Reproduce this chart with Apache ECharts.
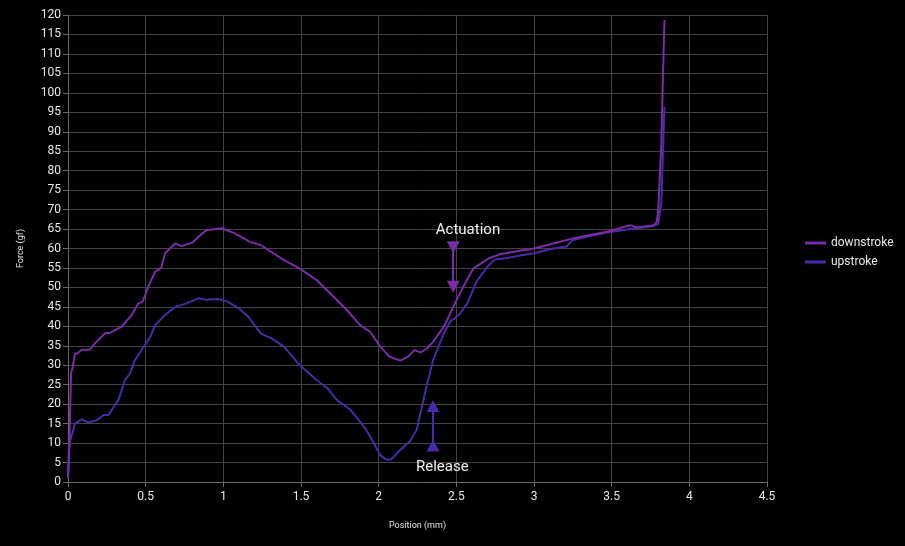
<!DOCTYPE html>
<html>
<head>
<meta charset="utf-8">
<script src="https://cdn.jsdelivr.net/npm/echarts@6/dist/echarts.min.js"></script>
<style>html,body{margin:0;padding:0;background:#000;}#c{width:905px;height:546px;}</style>
</head>
<body>
<div id="c"></div>
<script>
// Downstroke: [position (mm), force (gf)]
var downstroke = [
  [0.00, 1], [0.01, 12], [0.02, 28], [0.03, 29.5], [0.045, 33], [0.06, 33], [0.088, 34],
  [0.14, 34], [0.175, 35.7], [0.24, 38.3], [0.27, 38.3], [0.345, 39.9], [0.41, 42.9],
  [0.453, 45.9], [0.48, 46.3], [0.517, 50.2], [0.56, 54], [0.60, 55], [0.625, 58.8],
  [0.69, 61.3], [0.73, 60.6], [0.80, 61.5], [0.84, 63], [0.89, 64.7], [0.99, 65.2],
  [1.075, 63.9], [1.17, 61.7], [1.24, 60.9], [1.39, 57], [1.49, 54.9], [1.60, 51.9],
  [1.71, 47.6], [1.795, 44.2], [1.88, 40.3], [1.945, 38.6], [2.01, 34.8], [2.07, 32.2],
  [2.14, 31.2], [2.19, 32.2], [2.23, 33.9], [2.27, 33.3], [2.31, 34.3], [2.35, 36],
  [2.42, 39.9], [2.48, 45], [2.545, 50.2], [2.61, 54.9], [2.66, 56.2], [2.71, 57.5],
  [2.78, 58.5], [2.91, 59.4], [3.0, 60], [3.125, 61.3], [3.25, 62.6], [3.36, 63.5],
  [3.47, 64.3], [3.62, 66], [3.66, 65.4], [3.77, 66], [3.79, 66.8], [3.80, 70],
  [3.82, 87], [3.83, 104], [3.84, 118.7]
];
// Upstroke: [position (mm), force (gf)]
var upstroke = [
  [0.00, 1], [0.01, 10], [0.045, 15], [0.088, 16.1], [0.13, 15.3], [0.185, 15.9],
  [0.23, 17.2], [0.26, 17.2], [0.325, 21.1], [0.367, 26.2], [0.40, 27.9], [0.43, 31.3],
  [0.496, 35.2], [0.53, 37.3], [0.56, 40.3], [0.625, 42.9], [0.69, 45], [0.75, 45.7],
  [0.84, 47.2], [0.89, 46.8], [0.97, 47], [1.03, 46.3], [1.10, 44.6], [1.16, 42.5],
  [1.24, 38.2], [1.31, 36.9], [1.39, 34.8], [1.49, 30.1], [1.60, 26.2], [1.67, 24.1],
  [1.73, 21.1], [1.82, 18.5], [1.88, 15.5], [1.92, 13.4], [1.97, 9.9], [2.01, 6.9],
  [2.05, 5.7], [2.08, 5.8], [2.14, 8.3], [2.20, 10.4], [2.245, 13.4], [2.30, 23.2],
  [2.35, 31.3], [2.42, 38.2], [2.46, 41.2], [2.52, 43.1], [2.57, 45.9], [2.63, 51.5],
  [2.70, 55.3], [2.75, 57.2], [2.82, 57.5], [2.91, 58.2], [3.0, 58.8], [3.125, 60],
  [3.21, 60.5], [3.25, 62.2], [3.36, 63.2], [3.47, 64.1], [3.60, 64.9], [3.77, 65.8],
  [3.80, 66.3], [3.82, 72], [3.84, 96.4]
];
var xTicks = [0, 0.5, 1, 1.5, 2, 2.5, 3, 3.5, 4, 4.5];
var yTicks = [0, 5, 10, 15, 20, 25, 30, 35, 40, 45, 50, 55, 60, 65, 70, 75, 80, 85, 90, 95, 100, 105, 110, 115, 120];
// Annotations: arrow from -> to, label position
var actuationArrow = [[2.48, 60.3], [2.48, 50.2]];
var actuationLabel = [2.575, 64.7];
var releaseArrow = [[2.35, 19.5], [2.35, 9.4]];
var releaseLabel = [2.41, 3.9];

var cDown = '#7b2ca8';
var cUp = '#4b2aa8';
var FONT = 'Roboto, "Noto Sans", sans-serif';

var chart = echarts.init(document.getElementById('c'), null, {renderer: 'canvas'});
chart.setOption({
  backgroundColor: '#000',
  animation: false,
  textStyle: {fontFamily: FONT},
  grid: {left: 68, right: 138, top: 15, bottom: 64},
  legend: {
    orient: 'vertical', left: 805, top: 237, padding: 0,
    itemWidth: 21, itemHeight: 3, itemGap: 7, icon: 'rect',
    textStyle: {color: '#e8e8e8', fontSize: 12, fontFamily: FONT},
    data: ['downstroke', 'upstroke']
  },
  xAxis: {
    type: 'value', min: xTicks[0], max: xTicks[xTicks.length - 1], interval: 0.5,
    name: 'Position (mm)', nameLocation: 'middle', nameGap: 39,
    nameTextStyle: {color: '#e0e0e0', fontSize: 9, fontFamily: FONT},
    axisLine: {show: true, lineStyle: {color: '#6a6a6a', width: 1}},
    axisTick: {show: true, length: 5, lineStyle: {color: '#6a6a6a'}},
    axisLabel: {color: '#e8e8e8', fontSize: 12, margin: 9, fontFamily: FONT},
    splitLine: {show: true, lineStyle: {color: '#444', width: 1}}
  },
  yAxis: {
    type: 'value', min: yTicks[0], max: yTicks[yTicks.length - 1], interval: 5,
    name: 'Force (gf)', nameLocation: 'middle', nameGap: 43,
    nameTextStyle: {color: '#e0e0e0', fontSize: 9, fontFamily: FONT},
    axisLine: {show: true, lineStyle: {color: '#6a6a6a', width: 1}},
    axisTick: {show: true, length: 5, lineStyle: {color: '#6a6a6a'}},
    axisLabel: {color: '#e8e8e8', fontSize: 12, margin: 7, fontFamily: FONT},
    splitLine: {show: true, lineStyle: {color: '#444', width: 1}}
  },
  series: [
    {
      name: 'downstroke', type: 'line', data: downstroke, showSymbol: false, symbol: 'none',
      lineStyle: {color: cDown, width: 2}, itemStyle: {color: cDown}, z: 3,
      markLine: {
        silent: true, animation: false,
        lineStyle: {color: cDown, width: 2, type: 'solid'},
        symbolSize: [13, 12],
        label: {show: false},
        data: [[
          {coord: actuationArrow[0], symbol: 'triangle', symbolRotate: 180},
          {coord: actuationArrow[1], symbol: 'triangle', symbolRotate: 180}
        ]]
      },
      markPoint: {
        silent: true, animation: false, symbol: 'circle', symbolSize: 0,
        label: {show: true, color: '#f0f0f0', fontSize: 15, fontFamily: FONT, formatter: 'Actuation', position: 'inside'},
        data: [{coord: actuationLabel}]
      }
    },
    {
      name: 'upstroke', type: 'line', data: upstroke, showSymbol: false, symbol: 'none',
      lineStyle: {color: cUp, width: 2}, itemStyle: {color: cUp}, z: 2,
      markLine: {
        silent: true, animation: false,
        lineStyle: {color: cUp, width: 2, type: 'solid'},
        symbolSize: [13, 12],
        label: {show: false},
        data: [[
          {coord: releaseArrow[0], symbol: 'triangle', symbolRotate: 0},
          {coord: releaseArrow[1], symbol: 'triangle', symbolRotate: 0}
        ]]
      },
      markPoint: {
        silent: true, animation: false, symbol: 'circle', symbolSize: 0,
        label: {show: true, color: '#f0f0f0', fontSize: 15, fontFamily: FONT, formatter: 'Release', position: 'inside'},
        data: [{coord: releaseLabel}]
      }
    }
  ]
});
</script>
</body>
</html>
